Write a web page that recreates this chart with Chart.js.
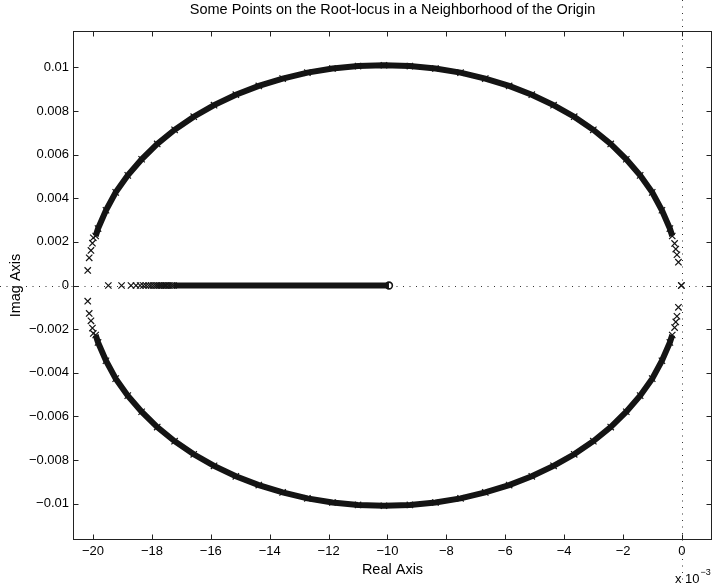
<!DOCTYPE html>
<html>
<head>
<meta charset="utf-8">
<title>Root-locus near the origin</title>
<script src="https://cdn.jsdelivr.net/npm/chart.js@4.4.1/dist/chart.umd.min.js"></script>
<style>
  html, body { margin: 0; padding: 0; background: #fff; }
  canvas { display: block; }
</style>
</head>
<body>
<canvas id="locus" width="713" height="585"></canvas>
<script>
// root locus close to the origin, real axis in units of 1e-3

// ---- data ----
// dense part of the two complex branches (same real parts, +/- imag)
const arcX = [-19.91, -19.83, -19.56, -19.23, -18.82, -18.35, -17.82, -17.23, -16.58,
              -15.89, -15.15, -14.37, -13.56, -12.72, -11.87, -11.00, -10.12, -9.24,
              -8.37, -7.52, -6.68, -5.87, -5.10, -4.36, -3.66, -3.01, -2.42, -1.89,
              -1.42, -1.01, -0.68, -0.41, -0.33];
const upperArcY = [0.00227, 0.00261, 0.00345, 0.00427, 0.00505, 0.00579, 0.00649, 0.00714,
                   0.00774, 0.00827, 0.00875, 0.00915, 0.00949, 0.00976, 0.00995, 0.01006,
                   0.0101, 0.01006, 0.00995, 0.00976, 0.00949, 0.00915, 0.00875, 0.00827,
                   0.00774, 0.00714, 0.00649, 0.00579, 0.00505, 0.00427, 0.00345, 0.00261,
                   0.00227];
const lowerArcY = [-0.00227, -0.00261, -0.00345, -0.00427, -0.00505, -0.00579, -0.00649, -0.00714,
                   -0.00774, -0.00827, -0.00875, -0.00915, -0.00949, -0.00976, -0.00995, -0.01006,
                   -0.0101, -0.01006, -0.00995, -0.00976, -0.00949, -0.00915, -0.00875, -0.00827,
                   -0.00774, -0.00714, -0.00649, -0.00579, -0.00505, -0.00427, -0.00345, -0.00261,
                   -0.00227];

// loose crosses at the two ends of the branches
const endX = [-20.18, -20.13, -20.07, -20.02, -19.99, -0.25, -0.21, -0.17, -0.12, -0.02];
const upperEndY = [0.00069, 0.00127, 0.00161, 0.00194, 0.00219, 0.00193, 0.00167, 0.00141, 0.00107, 0];
const lowerEndY = [-0.00072, -0.00128, -0.00162, -0.00195, -0.00220, -0.00193, -0.00167, -0.00141, -0.00100, 0];

// roots on the real axis (left of the zero)
const realX = [-19.48, -19.03, -18.71, -18.54, -18.40, -18.29, -18.20, -18.11, -18.03,
               -17.95, -17.88, -17.82, -17.76, -17.70, -17.65, -17.59, -17.54, -17.50,
               -17.44, -17.39, -17.33, -17.27];
const realBandX = [-17.27, -9.95];   // solid run of crosses
const zeroX = [-9.95];
const zeroY = [0];

// ticks
const xTicks = [-20, -18, -16, -14, -12, -10, -8, -6, -4, -2, 0];
const xTickLabels = ['\u221220', '\u221218', '\u221216', '\u221214', '\u221212', '\u221210',
                     '\u22128', '\u22126', '\u22124', '\u22122', '0'];
const yTicks = [-0.01, -0.008, -0.006, -0.004, -0.002, 0, 0.002, 0.004, 0.006, 0.008, 0.01];
const yTickLabels = ['\u22120.01', '\u22120.008', '\u22120.006', '\u22120.004', '\u22120.002', '0',
                     '0.002', '0.004', '0.006', '0.008', '0.01'];

const X_MIN = -20.68, X_MAX = 1.02;
const Y_MIN = -0.01167, Y_MAX = 0.01167;

function pts(xs, ys) {
  return xs.map((x, i) => ({ x: x, y: ys[i] }));
}

Chart.defaults.font.family = "'Liberation Sans', Arial, Helvetica, sans-serif";
Chart.defaults.font.size = 13;
Chart.defaults.color = '#000';

const INK = '#141414';

// dotted lines through the origin, across the whole figure
const originLines = {
  id: 'originLines',
  beforeDatasetsDraw(chart) {
    const { ctx, scales } = chart;
    const x0 = Math.round(scales.x.getPixelForValue(0)) + 0.5;
    const y0 = Math.round(scales.y.getPixelForValue(0)) + 0.5;
    ctx.save();
    ctx.strokeStyle = '#333';
    ctx.lineWidth = 1;
    ctx.setLineDash([1, 5.5]);
    ctx.beginPath();
    ctx.moveTo(0, y0);
    ctx.lineTo(chart.width, y0);
    ctx.moveTo(x0, 0);
    ctx.lineTo(x0, chart.height);
    ctx.stroke();
    ctx.restore();
  }
};

// matlab style box with inward ticks
const frame = {
  id: 'frame',
  afterDatasetsDraw(chart) {
    const { ctx, chartArea: a, scales } = chart;
    const L = Math.round(a.left) + 0.5, R = Math.round(a.right) - 0.5;
    const T = Math.round(a.top) + 0.5, B = Math.round(a.bottom) - 0.5;
    const len = 5;
    ctx.save();
    ctx.strokeStyle = '#222';
    ctx.lineWidth = 1;
    ctx.strokeRect(L, T, R - L, B - T);
    ctx.beginPath();
    xTicks.forEach(v => {
      const x = Math.round(scales.x.getPixelForValue(v)) + 0.5;
      ctx.moveTo(x, B); ctx.lineTo(x, B - len);
      ctx.moveTo(x, T); ctx.lineTo(x, T + len);
    });
    yTicks.forEach(v => {
      const y = Math.round(scales.y.getPixelForValue(v)) + 0.5;
      ctx.moveTo(L, y); ctx.lineTo(L + len, y);
      ctx.moveTo(R, y); ctx.lineTo(R - len, y);
    });
    ctx.stroke();
    ctx.restore();
  },
  afterDraw(chart) {
    // axis exponent under the right end of the x axis
    const { ctx, scales } = chart;
    const x0 = scales.x.getPixelForValue(0);
    ctx.save();
    ctx.fillStyle = '#000';
    ctx.textBaseline = 'alphabetic';
    ctx.textAlign = 'left';
    ctx.font = "13px 'Liberation Sans', Arial, sans-serif";
    ctx.fillText('x 10', x0 - 7, 583);
    const w = ctx.measureText('x 10').width;
    ctx.font = "9px 'Liberation Sans', Arial, sans-serif";
    ctx.fillText('\u22123', x0 - 7 + w + 1, 575);
    ctx.restore();
  }
};

const crossPoint = {
  pointStyle: 'crossRot',
  pointRadius: 4.5,
  pointBorderWidth: 1.2,
  pointBorderColor: INK,
  pointBackgroundColor: INK
};

function noPad(s) {
  s.paddingLeft = 0; s.paddingRight = 0; s.paddingTop = 0; s.paddingBottom = 0;
}

new Chart(document.getElementById('locus'), {
  type: 'scatter',
  data: {
    datasets: [
      { label: 'upper branch', data: pts(arcX, upperArcY), showLine: true,
        borderColor: INK, borderWidth: 6, ...crossPoint },
      { label: 'lower branch', data: pts(arcX, lowerArcY), showLine: true,
        borderColor: INK, borderWidth: 6, ...crossPoint },
      { label: 'upper ends', data: pts(endX, upperEndY), showLine: false, ...crossPoint },
      { label: 'lower ends', data: pts(endX, lowerEndY), showLine: false, ...crossPoint },
      { label: 'real axis', data: realX.map(x => ({ x: x, y: 0 })), showLine: false, ...crossPoint },
      { label: 'real band', data: realBandX.map(x => ({ x: x, y: 0 })), showLine: true,
        borderColor: INK, borderWidth: 6, pointRadius: 0 },
      { label: 'zero', data: pts(zeroX, zeroY), showLine: false,
        pointStyle: 'circle', pointRadius: 3.4, pointBorderWidth: 1.6,
        pointBorderColor: INK, pointBackgroundColor: '#fff' }
    ]
  },
  plugins: [originLines, frame],
  options: {
    responsive: false,
    devicePixelRatio: 1,
    animation: false,
    layout: { autoPadding: false, padding: { left: 0, right: 1, top: 0, bottom: 0 } },
    scales: {
      x: {
        type: 'linear',
        min: X_MIN,
        max: X_MAX,
        bounds: 'data',
        grid: { display: false, drawTicks: false },
        border: { display: false },
        afterBuildTicks: s => { s.ticks = xTicks.map(v => ({ value: v })); },
        afterFit: s => { s.height = 45; noPad(s); },
        ticks: {
          autoSkip: false,
          maxRotation: 0,
          padding: 4,
          callback: (v, i) => xTickLabels[i]
        },
        title: {
          display: true,
          text: 'Real Axis',
          font: { size: 14.5 },
          padding: { top: 0, bottom: 6 }
        }
      },
      top: {
        type: 'linear',
        position: 'top',
        min: X_MIN,
        max: X_MAX,
        grid: { display: false, drawTicks: false },
        border: { display: false },
        ticks: { display: false },
        afterFit: s => { s.height = 31; noPad(s); },
        title: {
          display: true,
          text: 'Some Points on the Root-locus in a Neighborhood of the Origin',
          font: { size: 14.5 },
          padding: { top: 1.5, bottom: 0 }
        }
      },
      y: {
        type: 'linear',
        min: Y_MIN,
        max: Y_MAX,
        bounds: 'data',
        grid: { display: false, drawTicks: false },
        border: { display: false },
        afterBuildTicks: s => { s.ticks = yTicks.map(v => ({ value: v })); },
        afterFit: s => { s.width = 73; noPad(s); },
        ticks: {
          autoSkip: false,
          padding: 4,
          callback: (v, i) => yTickLabels[i]
        },
        title: {
          display: true,
          text: 'Imag Axis',
          font: { size: 14.5 },
          padding: { top: 7, bottom: 0 }
        }
      }
    },
    plugins: {
      legend: { display: false },
      tooltip: { enabled: false },
      title: { display: false }
    }
  }
});
</script>
</body>
</html>
